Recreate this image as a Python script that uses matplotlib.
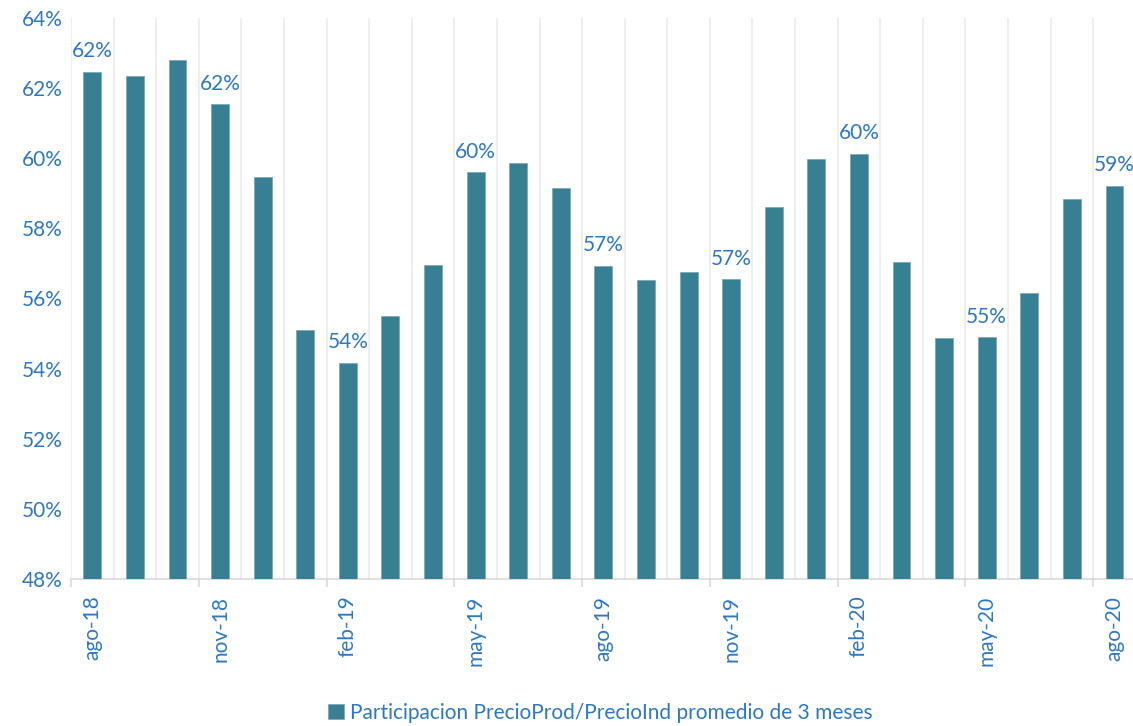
import matplotlib
matplotlib.use("Agg")
import matplotlib.pyplot as plt
import numpy as np

categories = ["ago-18", "sep-18", "oct-18", "nov-18", "dic-18", "ene-19", "feb-19", "mar-19",
              "abr-19", "may-19", "jun-19", "jul-19", "ago-19", "sep-19", "oct-19", "nov-19",
              "dic-19", "ene-20", "feb-20", "mar-20", "abr-20", "may-20", "jun-20", "jul-20", "ago-20"]
values = [62.46, 62.34, 62.80, 61.54, 59.46, 55.10, 54.16, 55.49,
          56.96, 59.60, 59.86, 59.16, 56.93, 56.52, 56.76, 56.55,
          58.61, 59.98, 60.13, 57.04, 54.86, 54.89, 56.16, 58.84, 59.22]
series_name = "Participacion PrecioProd/PrecioInd promedio de 3 meses"
yticks = [48, 50, 52, 54, 56, 58, 60, 62, 64]

plt.rcParams['font.family'] = ['Lato', 'DejaVu Sans']
BAR = "#377F93"
TXT = "#2E78C2"
FS = 15

fig = plt.figure(figsize=(11.33, 7.26), dpi=100)
ax = fig.add_axes([71/1133, 1-579/726, (1135.8-71)/1133, (579-18)/726])

x = np.arange(len(categories))
bars = ax.bar(x, values, width=0.42, color=BAR, edgecolor="#7FA9B6", linewidth=0.6,
              label=series_name, zorder=3)

ax.set_ylim(48, 64)
ax.set_xlim(-0.5, len(categories) - 0.5)
ax.set_yticks(yticks)
ax.set_yticklabels([f"{t}%" for t in yticks], color=TXT, fontsize=FS)

# vertical gridlines at category boundaries
for b in np.arange(-0.5, len(categories) + 0.5, 1):
    ax.axvline(b, color="#EBEBEB", linewidth=1.2, zorder=1)

ax.set_xticks(x[::3])
ax.set_xticklabels([categories[i] for i in range(0, len(categories), 3)],
                   rotation=90, color=TXT, fontsize=FS)
ax.tick_params(axis='x', length=0, pad=12)
ax.tick_params(axis='y', length=0, pad=6)
# tick marks at boundaries every 3 categories
ax.set_xticks(np.arange(-0.5, len(categories), 3), minor=True)
ax.tick_params(axis='x', which='minor', length=6, color="#D9D9D9", width=1.2)

for s in ["top", "right", "left"]:
    ax.spines[s].set_visible(False)
ax.spines["bottom"].set_color("#D9D9D9")
ax.spines["bottom"].set_linewidth(1.2)

for i in range(0, len(values), 3):
    ax.text(x[i], values[i] + 0.3, f"{values[i]:.0f}%", ha="center", va="bottom",
            color=TXT, fontsize=FS)

leg = fig.legend(handles=[bars], labels=[series_name], loc="center",
                 bbox_to_anchor=(0.530, 1-713/726), frameon=False, fontsize=FS,
                 handlelength=0.75, handleheight=0.75, handletextpad=0.3)
for t in leg.get_texts():
    t.set_color(TXT)

fig.savefig("out.png", dpi=100)
